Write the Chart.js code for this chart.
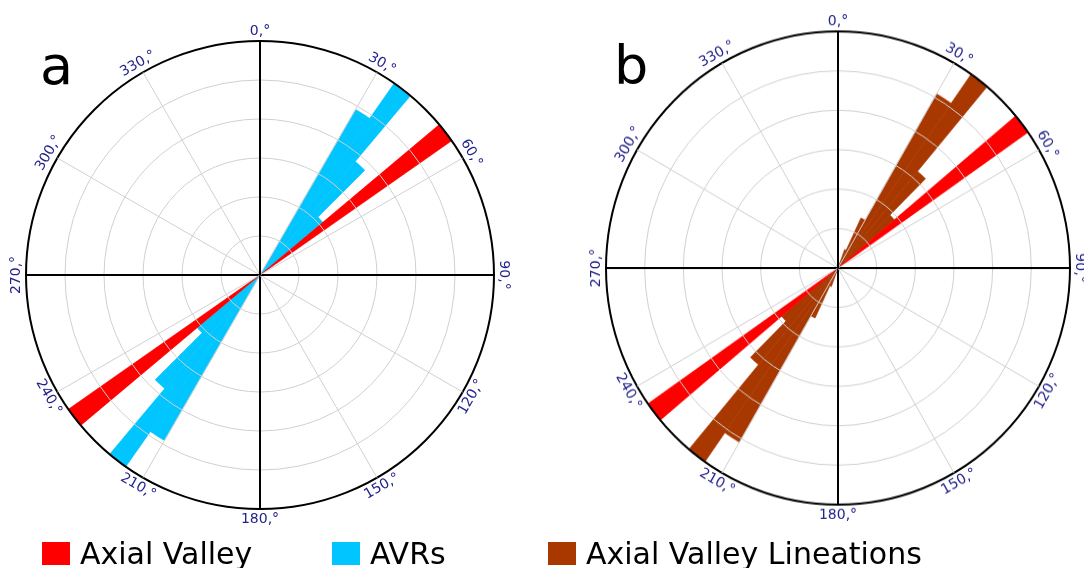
<!DOCTYPE html>
<html>
<head>
<meta charset="utf-8">
<script src="https://cdn.jsdelivr.net/npm/chart.js@4/dist/chart.umd.min.js"></script>
<style>
  html, body { margin: 0; padding: 0; background: #fff; }
  body { width: 1084px; height: 568px; position: relative; overflow: hidden; font-family: "DejaVu Sans", Verdana, sans-serif; }
  canvas { position: absolute; top: 0; }
  #ca { left: 0; }
  #cb { left: 540px; transform-origin: 298px 268px; transform: scaleY(1.02); }
  .letter { position: absolute; font-size: 54px; line-height: 54px; color: #000; }
  .leg { position: absolute; top: 539px; font-size: 30px; line-height: 30px; color: #000; white-space: nowrap; }
  .box { position: absolute; top: 542px; width: 28px; height: 23px; }
</style>
</head>
<body>
<canvas id="ca" width="540" height="568"></canvas>
<canvas id="cb" width="544" height="568"></canvas>
<div class="letter" style="left:40px; top:39px;">a</div>
<div class="letter" style="left:614px; top:39px;">b</div>
<div class="box" style="left:42px; background:#ff0000;"></div>
<div class="leg" style="left:80px;">Axial Valley</div>
<div class="box" style="left:332px; background:#00c5ff;"></div>
<div class="leg" style="left:370px;">AVRs</div>
<div class="box" style="left:548px; background:#a83800;"></div>
<div class="leg" style="left:586px;">Axial Valley Lineations</div>
<script>
// ---- data: 5-degree azimuth bins (start of bin), NE half; the rose is bidirectional, SW half mirrors it ----
const binWidth    = 5;
const binStart    = [ 20,  25,  30,  35,  40,  45,  50,  55];
const axialValley = [  0,   0,   0,   0,   0,   0,   6,   0];   // red
const avrs        = [  0,   0, 4.9,   6, 3.8, 2.1,   0,   0];   // blue
const lineations  = [0.5, 1.4, 5.1,   6, 3.2, 1.9,   0,   0];   // brown
const ringMax     = 6;
const ringStep    = 1;
const directionAngles = [0, 30, 60, 90, 120, 150, 180, 210, 240, 270, 300, 330];
const directionLabels = ['0,°', '30,°', '60,°', '90,°', '120,°', '150,°', '180,°', '210,°', '240,°', '270,°', '300,°', '330,°'];

const COLORS = { axial: '#ff0000', avrs: '#00c5ff', lin: '#a83800' };

const nBins = 360 / binWidth;
const azimuthLabels = Array.from({length: nBins}, (_, i) => String(i * binWidth));
function rose(values) {
  const d = new Array(nBins).fill(0);
  binStart.forEach((a, i) => {
    d[a / binWidth] = values[i];
    d[((a + 180) % 360) / binWidth] = values[i];
  });
  return d;
}
function ds(values, color) {
  return {
    data: rose(values),
    backgroundColor: color,
    borderColor: color,
    borderJoinStyle: 'round',
    borderWidth: (ctx) => (ctx.raw > 0 ? 0.6 : 0),
  };
}

const dirLabelPlugin = {
  id: 'dirLabels',
  afterDraw(chart) {
    const s = chart.scales.r;
    const ctx = chart.ctx;
    ctx.save();
    ctx.fillStyle = '#22228c';
    ctx.font = '14px "DejaVu Sans", Verdana, sans-serif';
    ctx.textAlign = 'center';
    ctx.textBaseline = 'middle';
    directionAngles.forEach((deg, k) => {
      const p = s.getPointPosition(deg / binWidth, s.drawingArea + 10);
      const rot = deg === 90 ? 90 : deg === 270 ? -90 : ((deg + 90) % 180) - 90;
      ctx.save();
      ctx.translate(p.x, p.y);
      ctx.rotate(rot * Math.PI / 180);
      ctx.fillText(directionLabels[k], 0, 0);
      ctx.restore();
    });
    ctx.restore();
  }
};

function makeChart(id, datasets, padding) {
  const per30 = 30 / binWidth, per90 = 90 / binWidth;
  return new Chart(document.getElementById(id), {
    type: 'polarArea',
    data: { labels: azimuthLabels, datasets },
    options: {
      responsive: false,
      animation: false,
      layout: { padding },
      plugins: { legend: { display: false }, tooltip: { enabled: false } },
      scales: {
        r: {
          min: 0, max: ringMax, startAngle: 0,
          ticks: { display: false, stepSize: ringStep },
          pointLabels: { display: false },
          grid: {
            z: 1, circular: true,
            color: (c) => (c.index === ringMax / ringStep ? '#000' : '#d0d0d0'),
            lineWidth: (c) => (c.index === ringMax / ringStep ? 2 : 1),
          },
          angleLines: {
            display: true,
            color: (c) => (c.index % per90 === 0 ? '#000' : '#d0d0d0'),
            lineWidth: (c) => (c.index % per90 === 0 ? 2 : (c.index % per30 === 0 ? 1 : 0)),
          },
        }
      }
    },
    plugins: [dirLabelPlugin]
  });
}

makeChart('ca', [ds(axialValley, COLORS.axial), ds(avrs, COLORS.avrs)], { left: 26, top: 41, right: 46, bottom: 59 });
makeChart('cb', [ds(axialValley, COLORS.axial), ds(lineations, COLORS.lin)], { left: 66, top: 36, right: 14, bottom: 68 });
</script>
</body>
</html>
